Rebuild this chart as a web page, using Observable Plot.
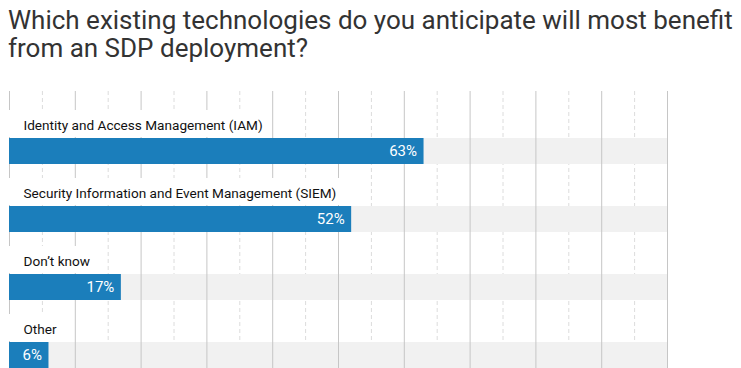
<!DOCTYPE html>
<html>
<head>
<meta charset="utf-8">
<script src="https://cdn.jsdelivr.net/npm/d3@7"></script>
<script src="https://cdn.jsdelivr.net/npm/@observablehq/plot@0.6"></script>
<style>
  html, body { margin: 0; padding: 0; background: #fff; }
  #title { font-family: Roboto, sans-serif; font-size: 26px; line-height: 28px; color: #333; padding: 6px 0 0 8px; height: 85px; box-sizing: border-box; white-space: nowrap; }
  #chart svg { display: block; }
</style>
</head>
<body>
<div id="title">Which existing technologies do you anticipate will most benefit<br>from an SDP deployment?</div>
<div id="chart"></div>
<script>
const categories = [
  "Identity and Access Management (IAM)",
  "Security Information and Event Management (SIEM)",
  "Don’t know",
  "Other"
];
const values = [63, 52, 17, 6];
const majorTicks = [0, 10, 20, 30, 40, 50, 60, 70, 80, 90, 100];
const minorTicks = [5, 15, 25, 35, 45, 55, 65, 75, 85, 95];

const data = categories.map((c, i) => ({category: c, value: values[i], label: values[i] + "%"}));

// label background box width (measured text width converted to % units)
const ctx = document.createElement("canvas").getContext("2d");
ctx.font = "13.6px Roboto";
const pxPerUnit = (667 - 9) / 100;
data.forEach(d => { d.boxEnd = (ctx.measureText(d.category).width + 20) / pxPerUnit; });

const chart = Plot.plot({
  width: 741,
  height: 283,
  marginLeft: 9,
  marginRight: 74,
  marginTop: 6,
  marginBottom: 0,
  x: {domain: [0, 100], axis: null},
  y: {type: "band", domain: categories, range: [53, 283], paddingInner: 42 / 68, paddingOuter: 0, round: false, axis: null},
  style: {fontFamily: "Roboto, sans-serif"},
  marks: [
    Plot.ruleX(minorTicks, {stroke: "#dcdcdc", strokeDasharray: "4,3"}),
    Plot.barX(data, {y: "category", x1: 0, x2: 100, fill: "#f1f1f1"}),
    Plot.ruleX(majorTicks, {stroke: "#c6c6c6"}),
    Plot.rect(data, {y: "category", x1: 0, x2: "boxEnd", fill: "#fff", dy: -27, insetTop: -1}),
    Plot.barX(data, {y: "category", x: "value", fill: "#1b7ebb"}),
    Plot.text(data, {y: "category", x: 0, text: "category", textAnchor: "start", dx: 14, dy: -26, fill: "#111", fontSize: 13.6}),
    Plot.text(data, {y: "category", x: "value", text: "label", textAnchor: "end", dx: -7, fill: "#fff", fontSize: 15})
  ]
});
document.getElementById("chart").appendChild(chart);
</script>
</body>
</html>
